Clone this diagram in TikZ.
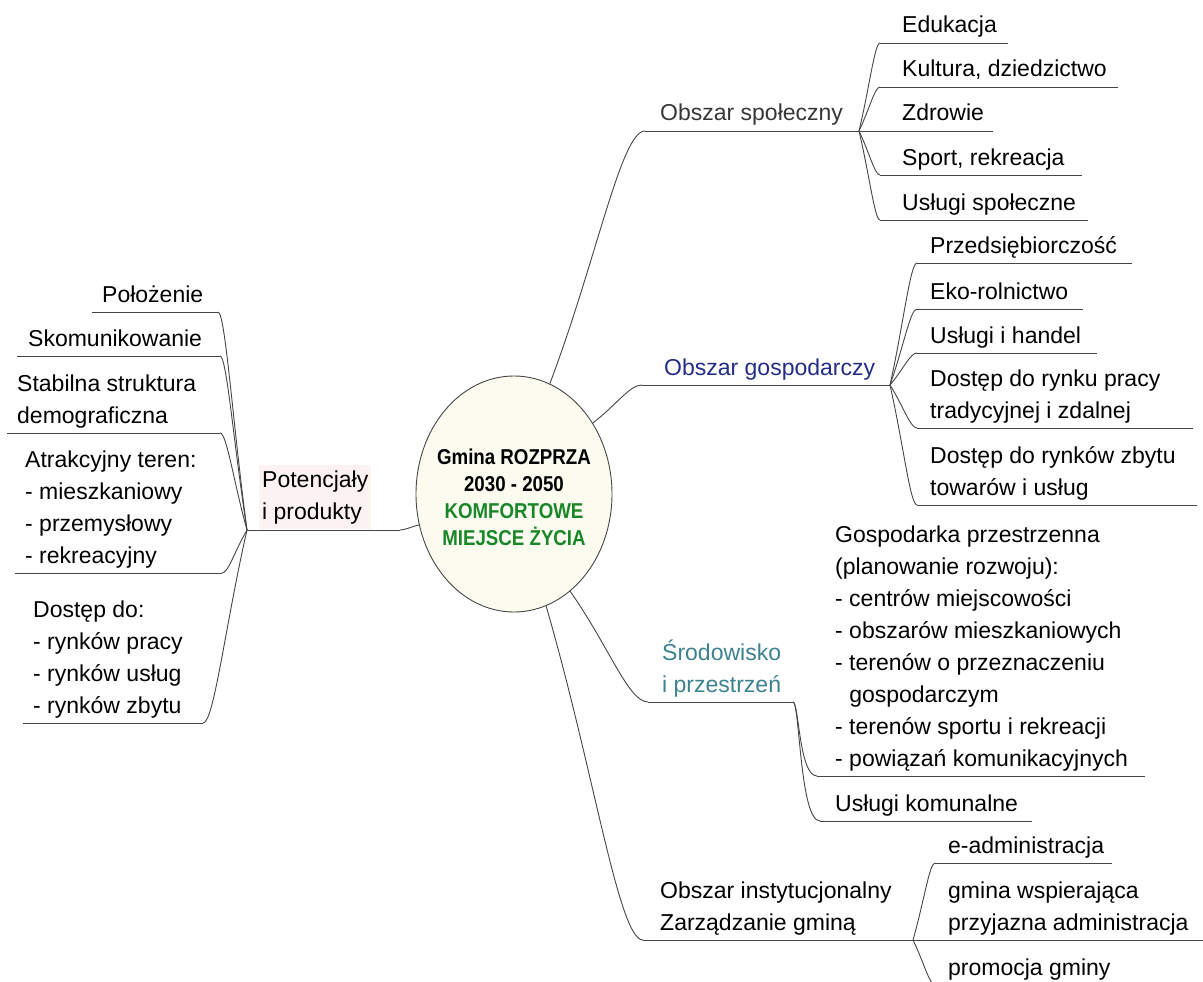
\documentclass[tikz,border=0pt]{standalone}
\usepackage{fontspec}
\setmainfont{Liberation Sans}
\newfontfamily\centerfont[FakeStretch=0.87]{Liberation Sans}
\usetikzlibrary{calc,shapes.geometric}
\definecolor{linec}{RGB}{70,70,70}
\definecolor{ellfill}{RGB}{251,251,240}
\definecolor{darkgreen}{RGB}{25,135,40}
\definecolor{navyt}{RGB}{35,45,135}
\definecolor{tealt}{RGB}{60,130,145}
\definecolor{pinkbg}{RGB}{253,242,242}
\definecolor{graytext}{RGB}{55,55,55}
\newcommand\mmc[2]{\draw[conn] let \p1=(#1), \p2=(#2) in (\p1) .. controls ($(\p1)!0.5!(\p2)$) and ({\x1+0.75*(\x2-\x1)},{\y2}) .. (\p2);}
\newcommand\mms[2]{\draw[conn] let \p1=(#1), \p2=(#2) in (\p1) .. controls ({\x1+0.25*(\x2-\x1)},{\y1}) and ({\x1+0.25*(\x2-\x1)},{\y2}) .. (\p2);}
\begin{document}
\begin{tikzpicture}[x=1pt,y=-1pt,
  conn/.style={draw=linec, line width=0.9pt},
  item/.style={anchor=base west, inner sep=0pt, align=left, font=\fontsize{23}{32}\selectfont, text=black},
  ell/.style={ellipse, draw=linec, line width=0.9pt, fill=ellfill, minimum width=196pt, minimum height=236pt, inner sep=0pt}]
\useasboundingbox (0,0) rectangle (1203,982);
\fill[white] (0,0) rectangle (1203,982);
\clip (0,0) rectangle (1203,982);

% centre
\node[ell] (c) at (514,494) {};
\node[align=center, inner sep=0pt, font=\centerfont\bfseries\fontsize{21.5}{27}\selectfont] (ct) at (514,497)
  {Gmina ROZPRZA\\2030 - 2050\\\textcolor{darkgreen}{KOMFORTOWE}\\\textcolor{darkgreen}{MIEJSCE ŻYCIA}};

% ---------- Obszar spoleczny
\coordinate (sS) at (645,131);
\coordinate (sJ) at (859,131);
\node[item, text=graytext] (soc) at (660,121) {Obszar społeczny};
\mmc{c.72}{sS}
\draw[conn] (sS) -- (sJ);
\coordinate (s1s) at (880,43);  \coordinate (s1e) at (1008,43);
\coordinate (s2s) at (880,87);  \coordinate (s2e) at (1118,87);
\coordinate (s3e) at (993,131);
\coordinate (s4s) at (880,175); \coordinate (s4e) at (1082,175);
\coordinate (s5s) at (880,220); \coordinate (s5e) at (1088,220);
\node[item] (s1) at (902,33) {Edukacja};
\node[item] (s2) at (902,77) {Kultura, dziedzictwo};
\node[item] (s3) at (902,121) {Zdrowie};
\node[item] (s4) at (902,165) {Sport, rekreacja};
\node[item] (s5) at (902,210) {Usługi społeczne};
\mmc{sJ}{s1s} \draw[conn] (s1s) -- (s1e);
\mmc{sJ}{s2s} \draw[conn] (s2s) -- (s2e);
\draw[conn] (sJ) -- (s3e);
\mmc{sJ}{s4s} \draw[conn] (s4s) -- (s4e);
\mmc{sJ}{s5s} \draw[conn] (s5s) -- (s5e);

% ---------- Obszar gospodarczy
\coordinate (gS) at (642,385);
\coordinate (gJ) at (890,385);
\node[item, text=navyt] (gos) at (664,375) {Obszar gospodarczy};
\mmc{c.42}{gS}
\draw[conn] (gS) -- (gJ);
\coordinate (g1s) at (917,263); \coordinate (g1e) at (1132,263);
\coordinate (g2s) at (917,309); \coordinate (g2e) at (1083,309);
\coordinate (g3s) at (917,353); \coordinate (g3e) at (1097,353);
\coordinate (g4s) at (917,428); \coordinate (g4e) at (1193,428);
\coordinate (g5s) at (917,505); \coordinate (g5e) at (1197,505);
\node[item] (g1) at (930,253) {Przedsiębiorczość};
\node[item] (g2) at (930,299) {Eko-rolnictwo};
\node[item] (g3) at (930,343) {Usługi i handel};
\node[item] (g4) at (930,418) {Dostęp do rynku pracy\\tradycyjnej i zdalnej};
\node[item] (g5) at (930,495) {Dostęp do rynków zbytu\\towarów i usług};
\mmc{gJ}{g1s} \draw[conn] (g1s) -- (g1e);
\mmc{gJ}{g2s} \draw[conn] (g2s) -- (g2e);
\mmc{gJ}{g3s} \draw[conn] (g3s) -- (g3e);
\mmc{gJ}{g4s} \draw[conn] (g4s) -- (g4e);
\mmc{gJ}{g5s} \draw[conn] (g5s) -- (g5e);

% ---------- Srodowisko
\coordinate (rS) at (648,702);
\coordinate (rJ) at (793,702);
\node[item, text=tealt] (sro) at (662,692) {Środowisko\\i przestrzeń};
\mmc{c.-60}{rS}
\draw[conn] (rS) -- (rJ);
\coordinate (r1s) at (817,776); \coordinate (r1e) at (1145,776);
\coordinate (r2s) at (820,821); \coordinate (r2e) at (1032,821);
\node[item] (r1) at (835,766) {Gospodarka przestrzenna\\(planowanie rozwoju):\\- centrów miejscowości\\- obszarów mieszkaniowych\\- terenów o przeznaczeniu\\\hphantom{- }gospodarczym\\- terenów sportu i rekreacji\\- powiązań komunikacyjnych};
\node[item] (r2) at (835,811) {Usługi komunalne};
\mms{rJ}{r1s} \draw[conn] (r1s) -- (r1e);
\mms{rJ}{r2s} \draw[conn] (r2s) -- (r2e);

% ---------- Obszar instytucjonalny
\coordinate (iS) at (643,940);
\coordinate (iJ) at (913,940);
\node[item] (ins) at (660,930) {Obszar instytucjonalny\\Zarządzanie gminą};
\mmc{c.-74}{iS}
\draw[conn] (iS) -- (iJ);
\coordinate (i1s) at (935,863); \coordinate (i1e) at (1112,863);
\coordinate (i2e) at (1203,940);
\coordinate (i3s) at (935,985); \coordinate (i3e) at (1110,985);
\node[item] (i1) at (948,853) {e-administracja};
\node[item] (i2) at (948,930) {gmina wspierająca\\przyjazna administracja};
\node[item] (i3) at (948,975) {promocja gminy};
\mmc{iJ}{i1s} \draw[conn] (i1s) -- (i1e);
\draw[conn] (iJ) -- (i2e);
\mmc{iJ}{i3s} \draw[conn] (i3s) -- (i3e);

% ---------- Potencjaly (left)
\coordinate (lJ) at (247,530);
\coordinate (lE) at (400,530);
\node[item, fill=pinkbg, inner xsep=3pt, inner ysep=5pt] (pot) at (259,519) {Potencjały\\i produkty};
\mmc{c.198}{lE}
\draw[conn] (lE) -- (lJ);
\coordinate (l1s) at (92,312);  \coordinate (l1e) at (218,312);
\coordinate (l2s) at (17,356);  \coordinate (l2e) at (220,356);
\coordinate (l3s) at (7,433);   \coordinate (l3e) at (220,433);
\coordinate (l4s) at (15,573);  \coordinate (l4e) at (222,573);
\coordinate (l5s) at (23,723);  \coordinate (l5e) at (203,723);
\node[item] (l1) at (102,302) {Położenie};
\node[item] (l2) at (28,346) {Skomunikowanie};
\node[item] (l3) at (17,423) {Stabilna struktura\\demograficzna};
\node[item] (l4) at (25,563) {Atrakcyjny teren:\\- mieszkaniowy\\- przemysłowy\\- rekreacyjny};
\node[item] (l5) at (33,713) {Dostęp do:\\- rynków pracy\\- rynków usług\\- rynków zbytu};
\mmc{lJ}{l1e} \draw[conn] (l1s) -- (l1e);
\mmc{lJ}{l2e} \draw[conn] (l2s) -- (l2e);
\mmc{lJ}{l3e} \draw[conn] (l3s) -- (l3e);
\mmc{lJ}{l4e} \draw[conn] (l4s) -- (l4e);
\mmc{lJ}{l5e} \draw[conn] (l5s) -- (l5e);
\end{tikzpicture}
\end{document}
